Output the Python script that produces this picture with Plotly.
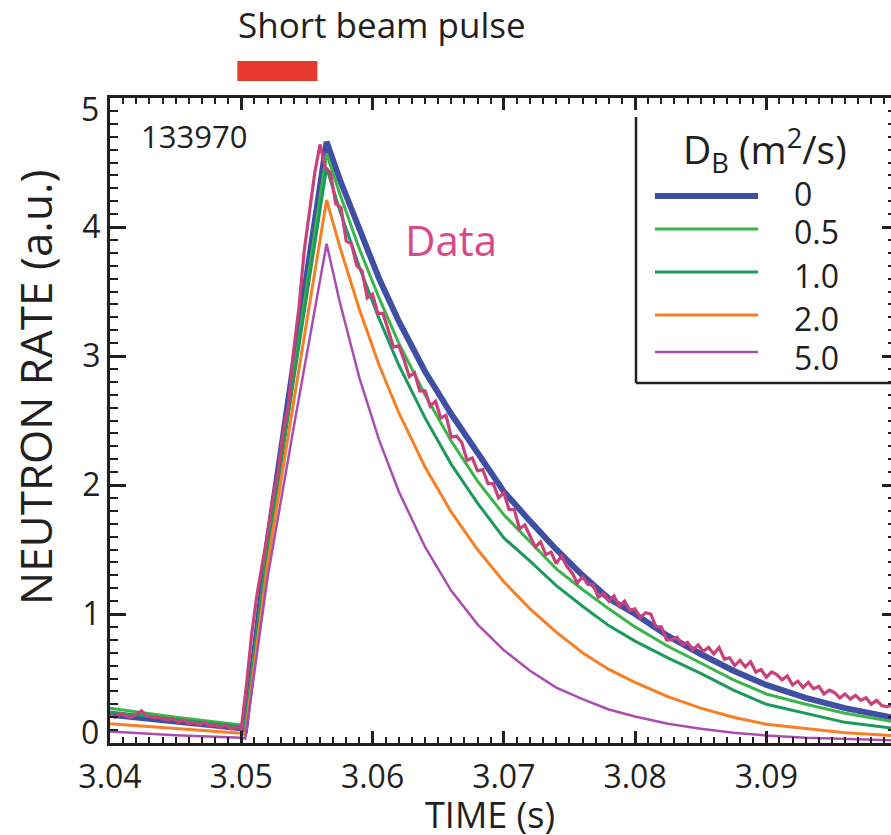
import plotly.graph_objects as go

# ---------------- data ----------------
DB_LABELS = ["0", "0.5", "1.0", "2.0", "5.0"]
COLORS = ["#3F4FA3", "#3AB54A", "#1B9A5B", "#F58025", "#A94EB0"]
WIDTHS = [6, 3, 3, 3, 2.5]

T_MODEL = [3.0400, 3.0450, 3.0500, 3.0503, 3.0520, 3.0540, 3.0565, 3.0575, 3.0590,
           3.0605, 3.0620, 3.0640, 3.0660, 3.0680, 3.0700, 3.0720, 3.0740, 3.0760,
           3.0780, 3.0800, 3.0825, 3.0850, 3.0875, 3.0900, 3.0930, 3.0960, 3.1000]

NR_D0 = [0.22, 0.17, 0.115, 0.105, 1.55, 2.95, 4.66, 4.37, 3.97, 3.60, 3.27, 2.88, 2.55,
         2.24, 1.95, 1.72, 1.50, 1.30, 1.12, 1.00, 0.83, 0.69, 0.56, 0.45, 0.35, 0.27, 0.19]
NR_D05 = [0.27, 0.20, 0.14, 0.13, 1.50, 2.88, 4.57, 4.26, 3.83, 3.45, 3.10, 2.70, 2.34,
          2.03, 1.77, 1.56, 1.35, 1.19, 1.04, 0.90, 0.75, 0.62, 0.49, 0.38, 0.30, 0.23, 0.16]
NR_D1 = [0.24, 0.18, 0.125, 0.115, 1.47, 2.82, 4.46, 4.13, 3.69, 3.29, 2.93, 2.52, 2.16,
         1.86, 1.59, 1.41, 1.22, 1.06, 0.91, 0.79, 0.66, 0.54, 0.41, 0.30, 0.23, 0.16, 0.11]
NR_D2 = [0.15, 0.11, 0.075, 0.065, 1.38, 2.65, 4.21, 3.85, 3.36, 2.93, 2.56, 2.14, 1.79,
         1.50, 1.25, 1.04, 0.86, 0.70, 0.57, 0.47, 0.36, 0.27, 0.20, 0.145, 0.11, 0.08, 0.055]
NR_D5 = [0.09, 0.06, 0.04, 0.035, 1.28, 2.45, 3.87, 3.42, 2.83, 2.35, 1.95, 1.52, 1.18,
         0.92, 0.72, 0.56, 0.43, 0.34, 0.26, 0.205, 0.15, 0.11, 0.08, 0.058, 0.04, 0.03, 0.02]
MODEL_SERIES = [NR_D0, NR_D05, NR_D1, NR_D2, NR_D5]

# measured neutron rate, sampled every 0.4 ms from 3.040 s
DATA_T0 = 3.0400
DATA_DT = 0.0004
NR_DATA = [
    0.22, 0.20, 0.23, 0.21, 0.20, 0.22, 0.25, 0.21, 0.20, 0.20,
    0.19, 0.18, 0.19, 0.16, 0.18, 0.15, 0.16, 0.14, 0.16, 0.13,
    0.14, 0.12, 0.14, 0.11, 0.12, 0.11, 0.45, 0.85, 1.15, 1.38,
    1.62, 1.90, 2.10, 2.42, 2.62, 3.05, 3.38, 3.82, 4.12, 4.42,
    4.64, 4.46, 4.42, 4.18, 4.15, 3.89, 3.87, 3.70, 3.66, 3.45,
    3.48, 3.33, 3.33, 3.19, 3.07, 3.08, 2.97, 2.84, 2.87, 2.73,
    2.73, 2.61, 2.65, 2.52, 2.54, 2.37, 2.38, 2.33, 2.19, 2.21,
    2.11, 2.12, 2.01, 2.01, 1.90, 1.94, 1.81, 1.81, 1.66, 1.69,
    1.61, 1.52, 1.56, 1.46, 1.48, 1.39, 1.45, 1.37, 1.32, 1.24,
    1.29, 1.23, 1.23, 1.13, 1.16, 1.10, 1.14, 1.06, 1.10, 1.03,
    1.04, 0.97, 1.01, 1.00, 0.90, 0.90, 0.80, 0.80, 0.82, 0.76,
    0.78, 0.72, 0.76, 0.71, 0.74, 0.69, 0.74, 0.65, 0.66, 0.60,
    0.64, 0.59, 0.63, 0.55, 0.57, 0.51, 0.55, 0.53, 0.49, 0.52,
    0.45, 0.48, 0.43, 0.47, 0.42, 0.44, 0.38, 0.41, 0.39, 0.35,
    0.38, 0.34, 0.37, 0.33, 0.35, 0.30, 0.33, 0.29, 0.28, 0.30,
    0.28,
]
DATA_COLOR = "#C8417A"

PULSE_START, PULSE_END = 3.0497, 3.0558
SHOT = "133970"

X_RANGE = [3.04, 3.0995]
Y_RANGE = [0, 5]
X_TICKS = [3.04, 3.05, 3.06, 3.07, 3.08, 3.09]
Y_TICKS = [0, 1, 2, 3, 4, 5]

# ---------------- layout helpers ----------------
W, H = 891, 835
L, R, T, B = 110, 0, 98, 92
PW, PH = W - L - R, H - T - B


def px(xp):
    return (xp - L) / PW


def py(yp):
    return (H - B - yp) / PH


FONT = "Open Sans"
INK = "#231F20"

fig = go.Figure()

for vals, col, w in zip(MODEL_SERIES, COLORS, WIDTHS):
    fig.add_trace(go.Scatter(x=T_MODEL, y=vals, mode="lines",
                             line=dict(color=col, width=w), showlegend=False,
                             hoverinfo="skip"))

fig.add_trace(go.Scatter(x0=DATA_T0, dx=DATA_DT, y=NR_DATA, mode="lines",
                         line=dict(color=DATA_COLOR, width=3.2), showlegend=False))

# helper trace for right-side tick axis
fig.add_trace(go.Scatter(x=[X_RANGE[0]], y=[Y_RANGE[0]], yaxis="y2", mode="lines",
                         line=dict(width=0), showlegend=False, hoverinfo="skip"))

tickfont = dict(family=FONT, size=32, color=INK)

fig.update_layout(
    width=W, height=H,
    margin=dict(l=L, r=R, t=T, b=B, pad=0),
    plot_bgcolor="white", paper_bgcolor="white",
    xaxis=dict(range=X_RANGE, tickvals=X_TICKS, ticktext=[f"{v:.2f}" for v in X_TICKS],
               showline=True, linecolor=INK, linewidth=3, mirror="ticks",
               ticks="inside", ticklen=12, tickwidth=2.5, tickcolor=INK,
               ticklabelstandoff=4,
               minor=dict(dtick=0.001, ticks="inside", ticklen=6, tickwidth=2, tickcolor=INK),
               showgrid=False, zeroline=False, tickfont=tickfont),
    yaxis=dict(range=Y_RANGE, tickvals=Y_TICKS,
               ticktext=["" if v in (0, 5) else str(v) for v in Y_TICKS],
               showline=True, linecolor=INK, linewidth=3, mirror=False,
               ticks="inside", ticklen=16, tickwidth=2.5, tickcolor=INK,
               minor=dict(dtick=0.1, ticks="inside", ticklen=8, tickwidth=2, tickcolor=INK),
               showgrid=False, zeroline=False, tickfont=tickfont),
    yaxis2=dict(range=Y_RANGE, overlaying="y", side="right", tickvals=Y_TICKS,
                showline=False, showticklabels=False,
                ticks="inside", ticklen=9, tickwidth=2.5, tickcolor=INK,
                minor=dict(dtick=0.1, ticks="inside", ticklen=3, tickwidth=2, tickcolor=INK),
                showgrid=False, zeroline=False),
    showlegend=False,
)

shapes = []
# short beam pulse bar
shapes.append(dict(type="rect", xref="x", yref="paper", x0=PULSE_START, x1=PULSE_END,
                   y0=py(81), y1=py(61), fillcolor="#E8392F", line=dict(width=0)))
# legend frame (left and bottom lines)
shapes.append(dict(type="line", xref="paper", yref="paper", x0=px(636), x1=px(636),
                   y0=py(117), y1=py(383), line=dict(color=INK, width=2.5)))
shapes.append(dict(type="line", xref="paper", yref="paper", x0=px(636), x1=px(891),
                   y0=py(383), y1=py(383), line=dict(color=INK, width=2.5)))
legend_line_y = [196, 229, 272, 315, 352]
legend_text_y = [193, 232, 275, 318, 357]
for lab, col, w, ly in zip(DB_LABELS, COLORS, WIDTHS, legend_line_y):
    shapes.append(dict(type="line", xref="paper", yref="paper", x0=px(655), x1=px(758),
                       y0=py(ly), y1=py(ly), line=dict(color=col, width=w)))
fig.update_layout(shapes=shapes)

ann = []


def text(t, x, y, size, xanchor="left", color=INK, angle=0):
    ann.append(dict(text=t, xref="paper", yref="paper", x=x, y=y, xanchor=xanchor,
                    yanchor="middle", showarrow=False, textangle=angle,
                    font=dict(family=FONT, size=size, color=color)))


for lab, ty in zip(DB_LABELS, legend_text_y):
    text(lab, px(792), py(ty), 32)
text("D<sub>B</sub> (m<sup>2</sup>/s)", px(681), py(150), 39)
text("Short beam pulse", px(236), py(25), 35)
text(SHOT, px(139), py(136), 31)
text("Data", px(403), py(239), 42, color="#D9478C")
text("TIME (s)", px(490), py(814), 36, xanchor="center")
text("NEUTRON RATE (a.u.)", px(35), py(388), 44, xanchor="center", angle=-90)
# end tick labels of the y axis, nudged inward as in the original
text("0", px(101), py(731), 32, xanchor="right")
text("5", px(101), py(108), 32, xanchor="right")

fig.update_layout(annotations=ann)

fig.write_html("out.html")
